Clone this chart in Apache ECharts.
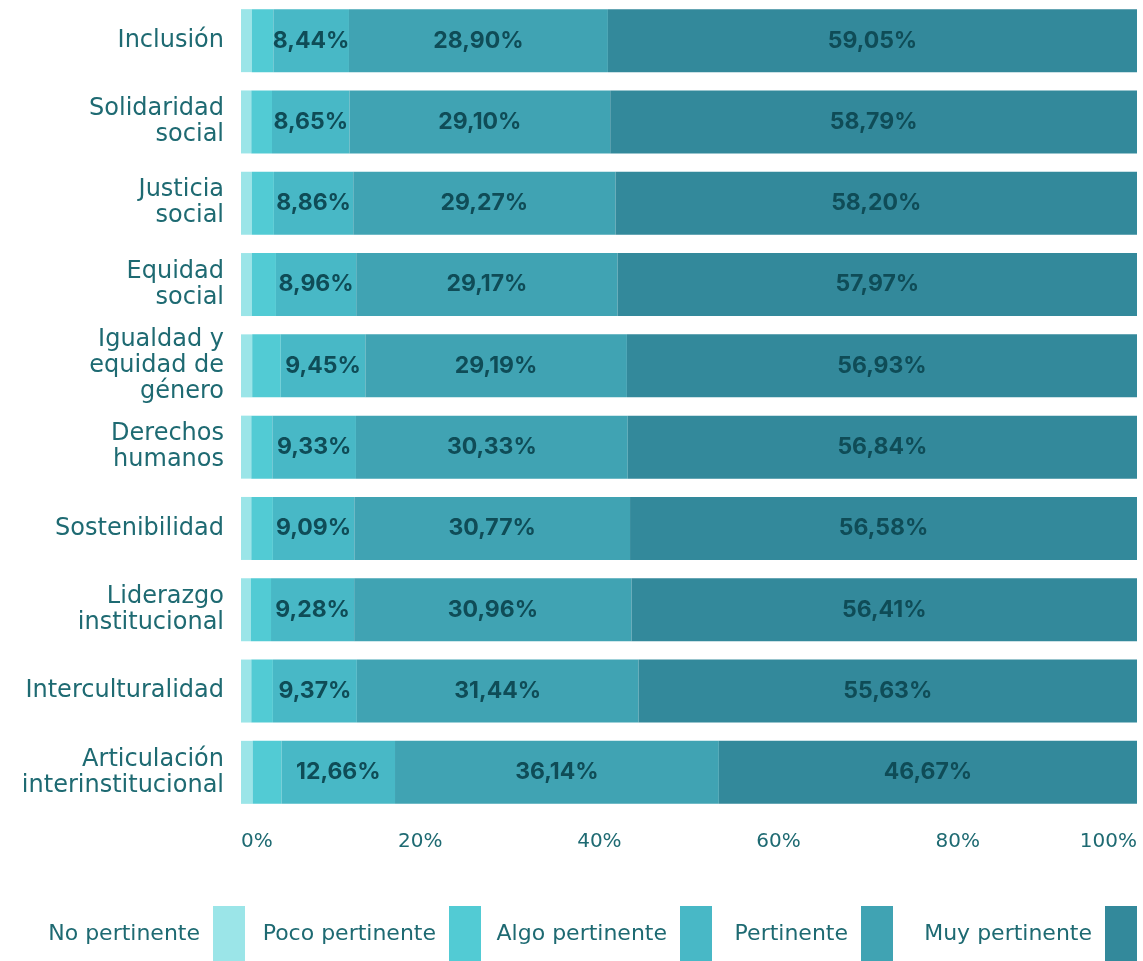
<!DOCTYPE html>
<html>
<head>
<meta charset="utf-8">
<title>Pertinencia</title>
<script src="https://cdn.jsdelivr.net/npm/echarts@6/dist/echarts.min.js"></script>
<style>
  html, body { margin: 0; padding: 0; background: #fff; }
  #chart { width: 1143px; height: 961px; }
</style>
</head>
<body>
<div id="chart"></div>
<script>
// categories, top to bottom
var categories = [
  "Inclusión",
  "Solidaridad\nsocial",
  "Justicia\nsocial",
  "Equidad\nsocial",
  "Igualdad y\nequidad de\ngénero",
  "Derechos\nhumanos",
  "Sostenibilidad",
  "Liderazgo\ninstitucional",
  "Interculturalidad",
  "Articulación\ninterinstitucional"
];

var seriesNames = ["No pertinente", "Poco pertinente", "Algo pertinente", "Pertinente", "Muy pertinente"];

// no / poco are not labelled in the picture: estimated from the remainder
var noPertinente   = [1.20, 1.15, 1.20, 1.20, 1.25, 1.15, 1.15, 1.10, 1.15, 1.30];
var pocoPertinente = [2.41, 2.31, 2.47, 2.70, 3.18, 2.35, 2.41, 2.25, 2.41, 3.23];
var algoPertinente = [8.44, 8.65, 8.86, 8.96, 9.45, 9.33, 9.09, 9.28, 9.37, 12.66];
var pertinente     = [28.90, 29.10, 29.27, 29.17, 29.19, 30.33, 30.77, 30.96, 31.44, 36.14];
var muyPertinente  = [59.05, 58.79, 58.20, 57.97, 56.93, 56.84, 56.58, 56.41, 55.63, 46.67];

var xTicks = [0, 20, 40, 60, 80, 100];

var colors = ["#9be5e8", "#52cbd4", "#48b8c6", "#40a3b3", "#33899b"];
var textColor = "#1e6a72";
var labelColor = "#0f4c57";
var font = "'DejaVu Sans', sans-serif";
var boldFont = "Inter, 'Open Sans', sans-serif";

var chart = echarts.init(document.getElementById("chart"));

function makeSeries(name, data, idx, showLabel) {
  return {
    name: name,
    type: "bar",
    stack: "total",
    barWidth: 63,
    data: data,
    itemStyle: { color: colors[idx] },
    label: {
      show: showLabel,
      position: "inside",
      color: labelColor,
      fontFamily: boldFont,
      fontWeight: "bold",
      fontSize: 23,
      formatter: function (p) {
        return p.value.toFixed(2).replace(".", ",") + "%";
      }
    },
    emphasis: { disabled: true },
    animation: false
  };
}

// legend items placed one by one, text left of the swatch (anchored by swatch right edge)
var legendRight = [898, 662, 431, 250, 6];
var legends = seriesNames.map(function (n, i) {
  return {
    data: [n],
    right: legendRight[i],
    top: 906,
    padding: 0,
    align: "right",
    itemWidth: 32,
    itemHeight: 56,
    icon: "rect",
    selectedMode: false,
    textStyle: {
      color: textColor,
      fontFamily: font,
      fontSize: 22,
      padding: [0, 8, 6, 0]
    }
  };
});

chart.setOption({
  backgroundColor: "#fff",
  color: colors,
  grid: {
    left: 241,
    right: 6,
    top: 0,
    height: 813,
    containLabel: false
  },
  legend: legends,
  xAxis: {
    type: "value",
    min: xTicks[0],
    max: xTicks[xTicks.length - 1],
    interval: 20,
    splitLine: { show: false },
    axisLine: { show: false },
    axisTick: { show: false },
    axisLabel: {
      color: textColor,
      fontFamily: font,
      fontSize: 20,
      margin: 19,
      alignMinLabel: "left",
      alignMaxLabel: "right",
      formatter: "{value}%"
    }
  },
  yAxis: {
    type: "category",
    inverse: true,
    data: categories,
    axisLine: { show: false },
    axisTick: { show: false },
    axisLabel: {
      color: textColor,
      fontFamily: font,
      fontSize: 24,
      lineHeight: 26,
      margin: 17,
      align: "right"
    }
  },
  series: [
    makeSeries(seriesNames[0], noPertinente, 0, false),
    makeSeries(seriesNames[1], pocoPertinente, 1, false),
    makeSeries(seriesNames[2], algoPertinente, 2, true),
    makeSeries(seriesNames[3], pertinente, 3, true),
    makeSeries(seriesNames[4], muyPertinente, 4, true)
  ]
});
</script>
</body>
</html>
